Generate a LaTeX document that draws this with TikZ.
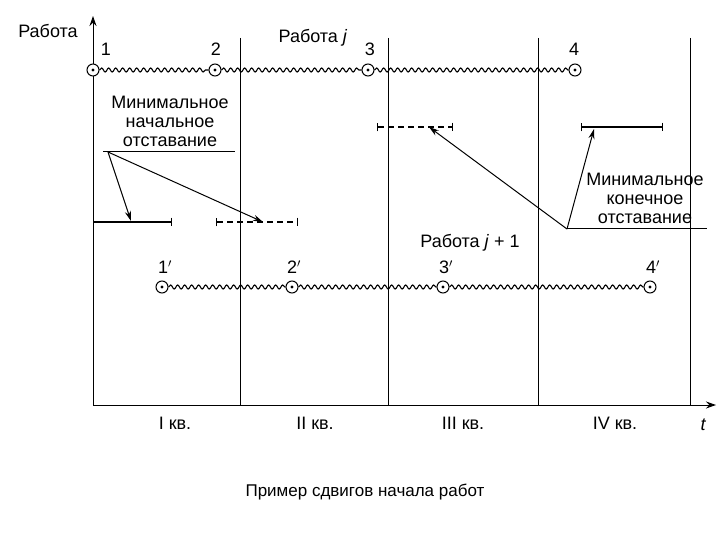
\documentclass[tikz,border=0pt]{standalone}
\usepackage{fontspec}
\setmainfont{Liberation Sans}
\usetikzlibrary{decorations.pathmorphing,arrows.meta}
\begin{document}
\begin{tikzpicture}[x=1pt,y=-1pt,
  wave/.style={decorate,decoration={snake,segment length=7,amplitude=2},line width=1.1pt},
  ev/.style={circle,draw,line width=1pt,fill=white,minimum size=12pt,inner sep=0pt},
  lab/.style={font=\fontsize{18}{19}\selectfont},
  seg/.style={line width=1.4pt,|-|},
  dseg/.style={line width=1.4pt,|-|,dash pattern=on 6pt off 4pt},
  arr/.style={-{Stealth[length=10pt,width=6pt]},line width=1pt},
  grid/.style={line width=1pt}]
\useasboundingbox (0,0) rectangle (720,540);
% axes
\coordinate (o) at (93,405);
\coordinate (ytop) at (93,16);
\coordinate (xend) at (716,405);
\draw[grid,-{Stealth[length=10pt,width=7pt]}] (o) -- (ytop);
\draw[grid,-{Stealth[length=10pt,width=7pt]}] (o) -- (xend);
\foreach \x in {240,388,538,690} \draw[grid] (\x,38) -- (\x,405);
\node[lab] (ya) at (48,31) {Работа};
\node[lab] (t) at (703,425) {\itshape t};
\node[lab] (q1) at (175,423) {I кв.};
\node[lab] (q2) at (315,423) {II кв.};
\node[lab] (q3) at (463,423) {III кв.};
\node[lab] (q4) at (615,423) {IV кв.};
% top work
\node[ev] (a1) at (93,70) {};
\node[ev] (a2) at (215,70) {};
\node[ev] (a3) at (368,70) {};
\node[ev] (a4) at (575,70) {};
\draw[wave] (a1) -- (a2); \draw[wave] (a2) -- (a3); \draw[wave] (a3) -- (a4);
\foreach \n in {a1,a2,a3,a4} \fill (\n.center) circle (1.6pt);
\node[lab] at (106,49) {1};
\node[lab] at (216,49) {2};
\node[lab] at (370,49) {3};
\node[lab] at (574,49) {4};
\node[lab] (wj) at (313,38) {Работа \textit{j}};
% bottom work
\node[ev] (b1) at (162,287) {};
\node[ev] (b2) at (292,287) {};
\node[ev] (b3) at (443,287) {};
\node[ev] (b4) at (650,287) {};
\draw[wave] (b1) -- (b2); \draw[wave] (b2) -- (b3); \draw[wave] (b3) -- (b4);
\foreach \n in {b1,b2,b3,b4} \fill (\n.center) circle (1.6pt);
\node[lab] at (165,267) {1$'$};
\node[lab] at (294,267) {2$'$};
\node[lab] at (446,267) {3$'$};
\node[lab] at (653,267) {4$'$};
\node[lab] (wj1) at (470,243) {Работа \textit{j} + 1};
% segments
\coordinate (s1a) at (93,222); \coordinate (s1b) at (172,222);
\draw[seg] (s1a) -- (s1b);
\coordinate (s2a) at (216,222); \coordinate (s2b) at (298,222);
\draw[dseg] (s2a) -- (s2b);
\coordinate (s3a) at (377,127); \coordinate (s3b) at (453,127);
\draw[dseg] (s3a) -- (s3b);
\coordinate (s4a) at (581,127); \coordinate (s4b) at (663,127);
\draw[seg] (s4a) -- (s4b);
% left annotation
\node[lab,align=center,inner sep=0pt] (lt) at (170,121) {Минимальное\\начальное\\отставание};
\coordinate (lu1) at (103,152); \coordinate (lu2) at (235,152); \coordinate (lp) at (108,152);
\draw[grid] (lu1) -- (lu2);
\coordinate (la1) at (131,221); \coordinate (la2) at (263,222);
\draw[arr] (lp) -- (la1);
\draw[arr] (lp) -- (la2);
% right annotation
\node[lab,align=center,inner sep=0pt] (rt) at (645,198) {Минимальное\\конечное\\отставание};
\coordinate (ru1) at (567,229); \coordinate (ru2) at (707,229);
\draw[grid] (ru1) -- (ru2);
\coordinate (ra1) at (429,127); \coordinate (ra2) at (594,129);
\draw[arr] (ru1) -- (ra1);
\draw[arr] (ru1) -- (ra2);
% caption
\node[lab,font=\fontsize{17}{19}\selectfont] (cap) at (365,492) {Пример сдвигов начала работ};
\end{tikzpicture}
\end{document}
